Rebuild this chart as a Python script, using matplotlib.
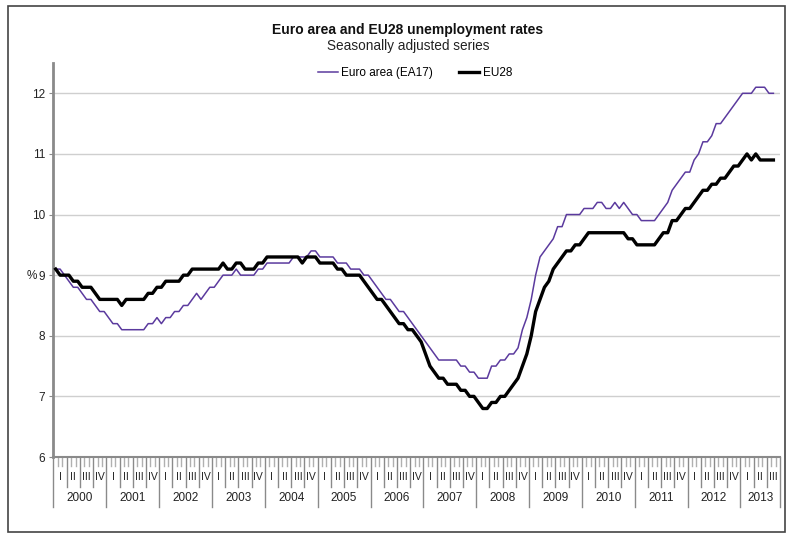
import numpy as np
import matplotlib
matplotlib.use('Agg')
import matplotlib.pyplot as plt
from matplotlib.patches import Rectangle

plt.rcParams['font.family'] = ['Liberation Sans', 'DejaVu Sans']

# ---------------- data (monthly, Jan 2000 - Aug 2013) ----------------
ea17 = [9.1, 9.1, 9.0, 8.9, 8.8, 8.8, 8.7, 8.6, 8.6, 8.5, 8.4, 8.4,   # 2000
        8.3, 8.2, 8.2, 8.1, 8.1, 8.1, 8.1, 8.1, 8.1, 8.2, 8.2, 8.3,   # 2001
        8.2, 8.3, 8.3, 8.4, 8.4, 8.5, 8.5, 8.6, 8.7, 8.6, 8.7, 8.8,   # 2002
        8.8, 8.9, 9.0, 9.0, 9.0, 9.1, 9.0, 9.0, 9.0, 9.0, 9.1, 9.1,   # 2003
        9.2, 9.2, 9.2, 9.2, 9.2, 9.2, 9.3, 9.3, 9.3, 9.3, 9.4, 9.4,   # 2004
        9.3, 9.3, 9.3, 9.3, 9.2, 9.2, 9.2, 9.1, 9.1, 9.1, 9.0, 9.0,   # 2005
        8.9, 8.8, 8.7, 8.6, 8.6, 8.5, 8.4, 8.4, 8.3, 8.2, 8.1, 8.0,   # 2006
        7.9, 7.8, 7.7, 7.6, 7.6, 7.6, 7.6, 7.6, 7.5, 7.5, 7.4, 7.4,   # 2007
        7.3, 7.3, 7.3, 7.5, 7.5, 7.6, 7.6, 7.7, 7.7, 7.8, 8.1, 8.3,   # 2008
        8.6, 9.0, 9.3, 9.4, 9.5, 9.6, 9.8, 9.8, 10.0, 10.0, 10.0, 10.0,  # 2009
        10.1, 10.1, 10.1, 10.2, 10.2, 10.1, 10.1, 10.2, 10.1, 10.2, 10.1, 10.0,  # 2010
        10.0, 9.9, 9.9, 9.9, 9.9, 10.0, 10.1, 10.2, 10.4, 10.5, 10.6, 10.7,  # 2011
        10.7, 10.9, 11.0, 11.2, 11.2, 11.3, 11.5, 11.5, 11.6, 11.7, 11.8, 11.9,  # 2012
        12.0, 12.0, 12.0, 12.1, 12.1, 12.1, 12.0, 12.0]                  # 2013

eu28 = [9.1, 9.0, 9.0, 9.0, 8.9, 8.9, 8.8, 8.8, 8.8, 8.7, 8.6, 8.6,   # 2000
        8.6, 8.6, 8.6, 8.5, 8.6, 8.6, 8.6, 8.6, 8.6, 8.7, 8.7, 8.8,   # 2001
        8.8, 8.9, 8.9, 8.9, 8.9, 9.0, 9.0, 9.1, 9.1, 9.1, 9.1, 9.1,   # 2002
        9.1, 9.1, 9.2, 9.1, 9.1, 9.2, 9.2, 9.1, 9.1, 9.1, 9.2, 9.2,   # 2003
        9.3, 9.3, 9.3, 9.3, 9.3, 9.3, 9.3, 9.3, 9.2, 9.3, 9.3, 9.3,   # 2004
        9.2, 9.2, 9.2, 9.2, 9.1, 9.1, 9.0, 9.0, 9.0, 9.0, 8.9, 8.8,   # 2005
        8.7, 8.6, 8.6, 8.5, 8.4, 8.3, 8.2, 8.2, 8.1, 8.1, 8.0, 7.9,   # 2006
        7.7, 7.5, 7.4, 7.3, 7.3, 7.2, 7.2, 7.2, 7.1, 7.1, 7.0, 7.0,   # 2007
        6.9, 6.8, 6.8, 6.9, 6.9, 7.0, 7.0, 7.1, 7.2, 7.3, 7.5, 7.7,   # 2008
        8.0, 8.4, 8.6, 8.8, 8.9, 9.1, 9.2, 9.3, 9.4, 9.4, 9.5, 9.5,   # 2009
        9.6, 9.7, 9.7, 9.7, 9.7, 9.7, 9.7, 9.7, 9.7, 9.7, 9.6, 9.6,   # 2010
        9.5, 9.5, 9.5, 9.5, 9.5, 9.6, 9.7, 9.7, 9.9, 9.9, 10.0, 10.1,  # 2011
        10.1, 10.2, 10.3, 10.4, 10.4, 10.5, 10.5, 10.6, 10.6, 10.7, 10.8, 10.8,  # 2012
        10.9, 11.0, 10.9, 11.0, 10.9, 10.9, 10.9, 10.9]                  # 2013

years = ['2000', '2001', '2002', '2003', '2004', '2005', '2006',
         '2007', '2008', '2009', '2010', '2011', '2012', '2013']
quarters = ['I', 'II', 'III', 'IV']
months_in_axis = 13 * 12 + 9   # Jan 2000 .. Sep 2013 categories
y_ticks = [6, 7, 8, 9, 10, 11, 12]

title = 'Euro area and EU28 unemployment rates'
subtitle = 'Seasonally adjusted series'

# ---------------- figure ----------------
W, H = 788, 536
fig = plt.figure(figsize=(W / 100, H / 100), dpi=100)


def fx(px):
    return px / W


def fy(py):
    return 1 - py / H


ax_left, ax_right, ax_top, ax_bot = 53.5, 780, 63, 457
ax = fig.add_axes([fx(ax_left), fy(ax_bot), fx(ax_right) - fx(ax_left), fy(ax_top) - fy(ax_bot)])
ax_h_px = ax_bot - ax_top

x = np.arange(len(ea17)) + 0.5
ax.plot(x, ea17, color='#5B3A9E', lw=1.1, label='Euro area (EA17)', zorder=3)
ax.plot(x, eu28, color='black', lw=2.4, label='EU28', zorder=4)

ax.set_xlim(0, months_in_axis)
ax.set_ylim(6, 12.5)
ax.set_yticks(y_ticks)
ax.set_xticks([])
ax.grid(axis='y', color='#cfcfcf', lw=1)
ax.set_axisbelow(True)
for s in ['top', 'right']:
    ax.spines[s].set_visible(False)
ax.spines['left'].set_color('#8a8a8a')
ax.spines['left'].set_linewidth(2)
ax.spines['bottom'].set_color('#8a8a8a')
ax.spines['bottom'].set_linewidth(1.5)
ax.tick_params(axis='y', length=3, color='#8a8a8a', labelsize=8.5, labelcolor='#222222', pad=3)

fig.text(fx(32), fy(276), '%', ha='center', va='center', fontsize=8.5, color='#222222')

# multi-level category axis
trans = ax.get_xaxis_transform()
px = 1.0 / ax_h_px
for m in range(months_in_axis + 1):
    if m % 12 == 0 or m == months_in_axis:
        L, c, lw = 50, '#8a8a8a', 1.0
    elif m % 3 == 0:
        L, c, lw = 30, '#8a8a8a', 1.0
    else:
        L, c, lw = 9, '#b0b0b0', 1.0
    ax.plot([m, m], [0, -L * px], transform=trans, clip_on=False, color=c, lw=lw)

nq = months_in_axis // 3
for q in range(nq):
    ax.text(3 * q + 1.5, -20 * px, quarters[q % 4], transform=trans, ha='center', va='center',
            fontsize=7.5, color='#222222')

for i, yr in enumerate(years):
    start = 12 * i
    end = min(12 * (i + 1), months_in_axis)
    ax.text((start + end) / 2, -41 * px, yr, transform=trans, ha='center', va='center',
            fontsize=8.5, color='#222222')

# titles & legend
fig.text(fx(408), fy(30), title, ha='center', va='center', fontsize=10, fontweight='bold', color='#111111')
fig.text(fx(408), fy(46), subtitle, ha='center', va='center', fontsize=9.8, color='#222222')
fig.legend(*ax.get_legend_handles_labels(), loc='center', bbox_to_anchor=(fx(415), fy(73)), ncol=2,
           frameon=False, fontsize=8.5, handlelength=1.7, handletextpad=0.3, columnspacing=2.2)

# outer frame
fig.patches.append(Rectangle((fx(7.5), fy(532)), fx(785) - fx(7.5), fy(5.5) - fy(532),
                             transform=fig.transFigure, fill=False, ec='#444444', lw=1.2))

fig.savefig('out.png', dpi=100)
